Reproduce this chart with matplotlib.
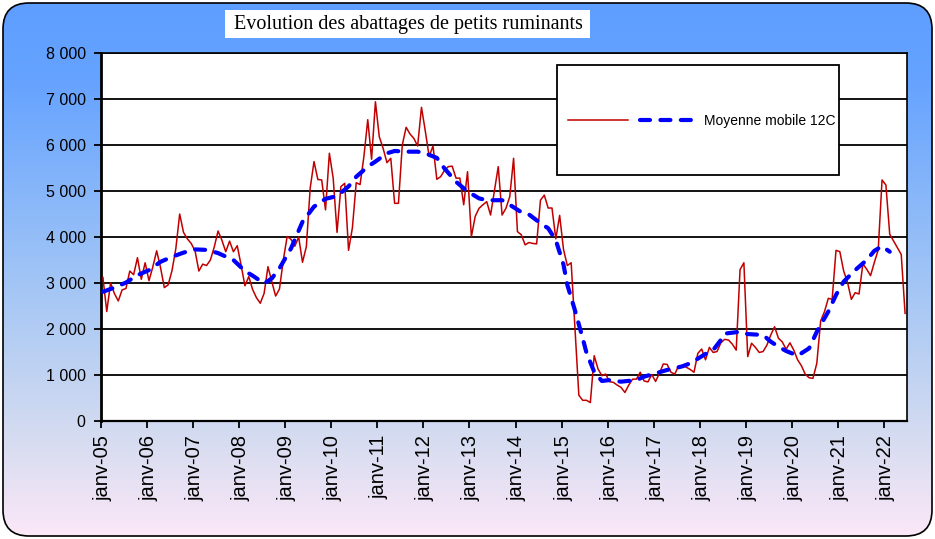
import matplotlib
matplotlib.use("Agg")
import numpy as np
import matplotlib.pyplot as plt
from matplotlib.colors import LinearSegmentedColormap
from matplotlib.patches import FancyBboxPatch, Rectangle
from matplotlib.transforms import Affine2D

# abattages mensuels, janv-05 .. juin-22
abattages = [
    3120, 2380, 3000, 2770, 2610, 2850, 2880, 3260, 3180, 3550,
    3080, 3440, 3050, 3350, 3700, 3340, 2900, 2960, 3270, 3750,
    4500, 4100, 3960, 3860, 3700, 3260, 3410, 3380, 3500, 3780,
    4130, 3930, 3680, 3910, 3680, 3810, 3390, 2940, 3140, 2860,
    2680, 2560, 2775, 3355, 3030, 2717, 2870, 3500, 4010, 3950,
    3800, 4000, 3450, 3790, 5060, 5640, 5250, 5240, 4590, 5820,
    5276, 4100, 5094, 5167, 3710, 4200, 5180, 5140, 5750, 6550,
    5690, 6940, 6180, 5930, 5616, 5711, 4732, 4732, 6000, 6385,
    6240, 6145, 5978, 6819, 6300, 5750, 5980, 5254, 5312, 5450,
    5530, 5540, 5280, 5280, 4700, 5420, 4007, 4450, 4624, 4700,
    4768, 4478, 5000, 5529, 4478, 4623, 4877, 5711, 4116, 4050,
    3830, 3880, 3860, 3850, 4800, 4910, 4630, 4630, 3960, 4470,
    3730, 3380, 3440, 2000, 560, 450, 450, 400, 1420, 1130,
    985, 1020, 855, 840, 780, 730, 620, 780, 910, 910,
    1060, 870, 850, 1010, 860, 1040, 1240, 1230, 1060, 1020,
    1200, 1200, 1170, 1120, 1060, 1470, 1565, 1330, 1600, 1490,
    1510, 1700, 1775, 1760, 1670, 1540, 3290, 3440, 1400, 1690,
    1600, 1490, 1510, 1650, 1870, 2050, 1800, 1720, 1560, 1700,
    1540, 1330, 1200, 1015, 940, 928, 1254, 2174, 2377, 2667,
    2645, 3710, 3681, 3261, 3015, 2645, 2790, 2761, 3413, 3300,
    3160, 3450, 3720, 5240, 5130, 4060, 3913, 3770, 3620, 2340,
]

# moyenne mobile 12C (indice du mois, valeur)
mm_mois = [0, 3, 6, 9, 12, 15, 18, 21, 24, 27, 30, 34, 37, 39, 42, 44, 46, 49, 52, 55,
           58, 61, 64, 66, 69, 71, 74, 76, 79, 82, 84, 87, 89, 92, 95, 98, 100, 104, 106, 109,
           111, 114, 116, 118, 120, 121, 123, 125, 126, 128, 130, 132, 135, 139, 141, 144, 147, 149, 151, 153,
           157, 159, 161, 162, 166, 168, 172, 174, 176, 178, 181, 184, 186, 189, 191, 193, 196, 199, 201, 203,
           205]
mm_valeurs = [2810, 2900, 3010, 3170, 3280, 3460, 3570, 3660, 3730, 3720, 3650, 3500, 3260, 3160, 2990, 3100, 3320, 3750, 4330, 4660,
              4830, 4890, 5100, 5310, 5530, 5640, 5820, 5870, 5855, 5855, 5820, 5720, 5490, 5200, 4990, 4840, 4800, 4800, 4700, 4540,
              4490, 4300, 4190, 3930, 3400, 2960, 2400, 1800, 1480, 1070, 870, 890, 855, 890, 964, 1036, 1110, 1145, 1190, 1254,
              1457, 1543, 1761, 1900, 1940, 1890, 1870, 1725, 1616, 1522, 1420, 1580, 1940, 2380, 2740, 3030, 3280, 3500, 3700, 3800,
              3680]

annees = ["janv-05", "janv-06", "janv-07", "janv-08", "janv-09", "janv-10",
          "janv-11", "janv-12", "janv-13", "janv-14", "janv-15", "janv-16",
          "janv-17", "janv-18", "janv-19", "janv-20", "janv-21", "janv-22"]
graduations = [0, 1000, 2000, 3000, 4000, 5000, 6000, 7000, 8000]

W, H = 935, 539
fig = plt.figure(figsize=(W / 100, H / 100), dpi=100)
# pixel coordinates measured from the top-left corner
px = Affine2D().scale(1 / W, -1 / H).translate(0, 1) + fig.transFigure

# rounded background with a blue -> pink gradient
bg = fig.add_axes([0, 0, 1, 1], zorder=-10)
bg.set_xlim(0, W)
bg.set_ylim(H, 0)
bg.axis("off")
fond = LinearSegmentedColormap.from_list(
    "fond", [(0, "#5E9EFF"), (0.15, "#66A3FF"), (0.5, "#9EC3F6"), (0.8, "#D3DBF0"), (1, "#FCE8F8")])
im = bg.imshow(np.linspace(0, 1, 256).reshape(-1, 1), cmap=fond, extent=[0, W, H, 0], aspect="auto")
cadre = FancyBboxPatch((3, 3), W - 6, H - 6, boxstyle="round,pad=0,rounding_size=26",
                       fc="none", ec="black", lw=1.2)
bg.add_patch(cadre)
im.set_clip_path(cadre)

# title box
bg.add_patch(Rectangle((225, 10), 365, 28, fc="white", ec="none"))
bg.text(408, 25, "Evolution des abattages de petits ruminants", ha="center", va="center",
        fontsize=14.5, family="Liberation Serif")

ax = fig.add_axes([101 / W, 1 - 421 / H, 806 / W, 368 / H])
mois = np.arange(len(abattages))
l1, = ax.plot(mois, abattages, color="#C00000", lw=1.1, zorder=3)
l2, = ax.plot(mm_mois, mm_valeurs, color="#0000FF", lw=3, ls=(0, (2.4, 2.5)),
              dash_capstyle="round", zorder=4)

ax.set_xlim(-0.5, len(abattages) - 0.5)
ax.set_ylim(0, 8000)
ax.set_yticks(graduations)
ax.set_yticklabels([f"{v:,}".replace(",", " ") for v in graduations])
ax.yaxis.grid(True, color="black", lw=1.3)
ax.set_axisbelow(True)

pos = np.arange(len(annees)) * 12
ax.set_xticks(pos - 0.5)
ax.set_xticklabels([])
ax.set_xticks(pos, minor=True)
ax.set_xticklabels(annees, minor=True, rotation=90, ha="center", va="top")

ax.tick_params(axis="y", direction="out", length=5, width=1.3, labelsize=11.5, pad=6)
ax.tick_params(axis="x", which="major", direction="out", length=5, width=1.3)
ax.tick_params(axis="x", which="minor", length=0, labelsize=14.5, pad=10)
for lab in ax.get_xticklabels(minor=True) + ax.get_yticklabels():
    lab.set_family("Liberation Sans")
for s in ax.spines.values():
    s.set_color("black")
    s.set_linewidth(1.2)
ax.spines["left"].set_linewidth(2)
ax.spines["bottom"].set_linewidth(1.6)

# legend box drawn over the plot area
fig.add_artist(Rectangle((557, 65), 282, 110, transform=px, fc="white", ec="black", lw=1.3, zorder=2))
leg = fig.legend([l1, l2], ["", "Moyenne mobile 12C"], loc="center",
                 bbox_to_anchor=(702 / W, 1 - 121 / H), ncol=2, frameon=False,
                 handlelength=4.3, handletextpad=0.3, columnspacing=0.6,
                 prop={"family": "Liberation Sans", "size": 10})
leg.set_zorder(5)

fig.savefig("out.png", dpi=100)
